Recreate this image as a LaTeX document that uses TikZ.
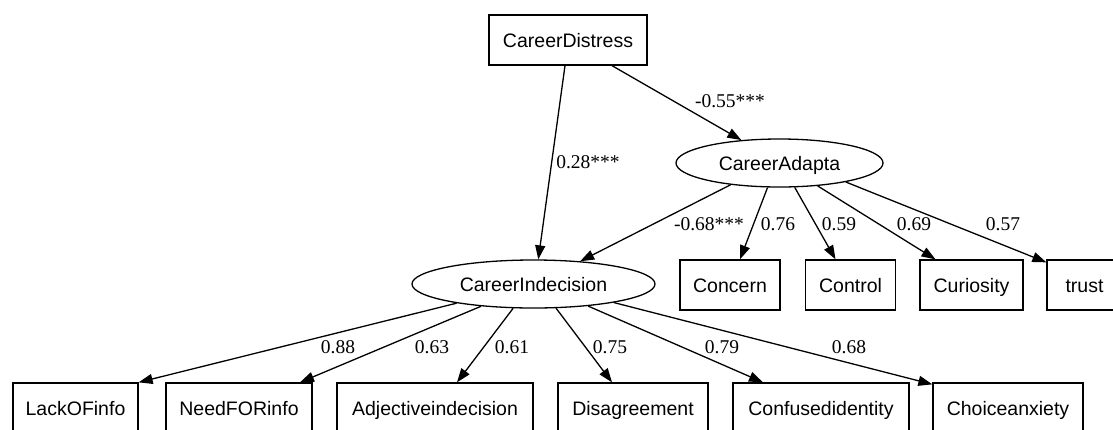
\documentclass[tikz,border=0pt]{standalone}
\usepackage{fontspec}
\setmainfont{Liberation Sans}
\newfontfamily\lblfont{Liberation Serif}
\usetikzlibrary{shapes.geometric,arrows.meta}
\begin{document}
\begin{tikzpicture}[x=1pt,y=-1pt,
  box/.style={draw, line width=1.3pt, rectangle, minimum height=50pt, inner sep=0pt,
    text height=14pt, text depth=0pt, font=\fontsize{19.5}{23}\selectfont},
  latent/.style={draw, line width=1.3pt, ellipse, inner sep=0pt,
    text height=14pt, text depth=0pt, font=\fontsize{19.5}{23}\selectfont},
  arr/.style={-{Triangle[length=14pt,width=10pt]}, line width=1.3pt},
  lbl/.style={font=\lblfont\fontsize{19.5}{23}\selectfont, inner sep=0pt}]
\useasboundingbox (0,0) rectangle (1113,429);
\clip (0,0) rectangle (1113,429);

% nodes
\node[box, minimum width=158pt] (CD) at (568,40) {CareerDistress};
\node[latent, minimum width=207pt, minimum height=48pt] (CA) at (779.5,163) {CareerAdapta};
\node[latent, minimum width=243pt, minimum height=48pt] (CI) at (533.5,284) {CareerIndecision};

\node[box, minimum width=100pt] (Concern) at (730,285) {Concern};
\node[box, minimum width=90pt] (Control) at (850.5,285) {Control};
\node[box, minimum width=103pt] (Curiosity) at (971.5,285) {Curiosity};
\node[box, minimum width=75pt] (trust) at (1084.5,285) {trust};

\node[box, minimum width=125pt] (Lack) at (75.5,408) {LackOFinfo};
\node[box, minimum width=146pt] (Need) at (239,408) {NeedFORinfo};
\node[box, minimum width=196pt] (Adj) at (435,408) {Adjectiveindecision};
\node[box, minimum width=150pt] (Dis) at (633,408) {Disagreement};
\node[box, minimum width=176pt] (Conf) at (821,408) {Confusedidentity};
\node[box, minimum width=150pt] (Choice) at (1008,408) {Choiceanxiety};

% edges
\draw[arr] ([xshift=-3pt]CD.south) -- (CI.79.4);
\draw[arr] ([xshift=44pt]CD.south) -- (CA.149.8);
\draw[arr] (CA.204.1) -- (CI.26.8);
\draw[arr] (CA.244.4) -- ([xshift=10pt]Concern.north);
\draw[arr] (CA.302.9) -- ([xshift=-15pt]Control.north);
\draw[arr] (CA.329.1) -- ([xshift=-36pt]Curiosity.north);
\draw[arr] (CA.344.5) -- ([yshift=-3pt]trust.north west);

\draw[arr] (CI.194.1) -- (Lack.north east);
\draw[arr] (CI.203.4) -- ([xshift=61pt]Need.north);
\draw[arr] (CI.230.9) -- ([xshift=22pt]Adj.north);
\draw[arr] (CI.313) -- ([xshift=-21pt]Dis.north);
\draw[arr] (CI.338.6) -- ([xshift=-58pt]Conf.north);
\draw[arr] (CI.347.8) -- ([yshift=-2pt]Choice.north west);

% labels
\node[lbl] (l1) at (588,162) {0.28***};
\node[lbl] (l2) at (730,101) {-0.55***};
\node[lbl] (l3) at (709,224) {-0.68***};
\node[lbl] (l4) at (778,224) {0.76};
\node[lbl] (l5) at (839,224) {0.59};
\node[lbl] (l6) at (914,224) {0.69};
\node[lbl] (l7) at (1003,224) {0.57};
\node[lbl] (l8) at (338,347) {0.88};
\node[lbl] (l9) at (432,347) {0.63};
\node[lbl] (l10) at (512,347) {0.61};
\node[lbl] (l11) at (610,347) {0.75};
\node[lbl] (l12) at (722,347) {0.79};
\node[lbl] (l13) at (849,347) {0.68};
\end{tikzpicture}
\end{document}
